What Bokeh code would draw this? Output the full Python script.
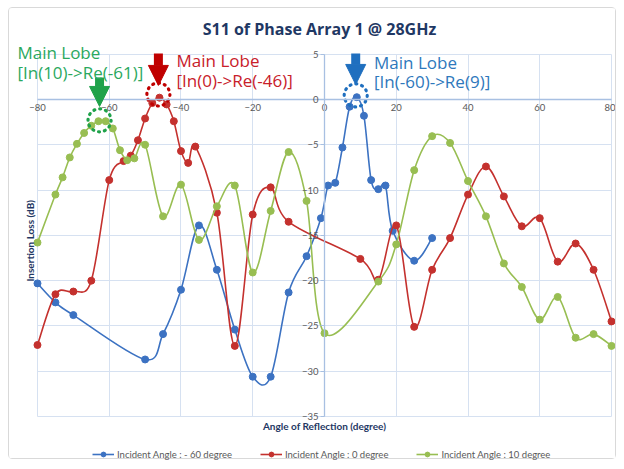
import numpy as np
from bokeh.plotting import figure
from bokeh.models import (Arrow, NormalHead, Label, Legend, LegendItem,
                          SingleIntervalTicker, ColumnDataSource, Range1d)
from bokeh.embed import file_html
from bokeh.resources import INLINE

# ---------------- data ----------------
title_text = "S11 of Phase Array 1 @ 28GHz"
x_title = "Angle of Reflection (degree)"
y_title = "Insertion Loss (dB)"

series_names = ["Incident Angle : - 60 degree",
                "Incident Angle : 0 degree",
                "Incident Angle : 10 degree"]

blue_x = [-80, -75, -70, -50, -45, -40, -35, -30, -25, -20, -15, -10, -5, -1,
          1, 3, 5, 7, 9, 11, 13, 15, 17, 19, 25, 30]
blue_y = [-20.3, -22.4, -23.8, -28.7, -25.9, -21.0, -13.9, -18.8, -25.4, -30.6,
          -30.6, -21.3, -17.3, -13.1, -9.5, -9.2, -5.3, -0.8, 0.25, -1.8, -8.9,
          -9.9, -9.5, -14.5, -17.8, -15.3]

red_x = [-80, -75, -70, -65, -60, -56, -54, -52, -50, -48, -46, -44, -42, -40,
         -38, -36, -30, -25, -20, -15, -10, 10, 15, 20, 25, 30, 35, 40, 45, 50,
         55, 60, 65, 70, 75, 80]
red_y = [-27.1, -21.5, -21.2, -20.0, -8.9, -6.8, -6.2, -4.5, -2.1, -0.4, 0.2,
         -0.55, -2.4, -5.7, -7.0, -5.2, -12.5, -27.2, -12.7, -9.7, -13.5, -17.6,
         -19.9, -13.9, -25.1, -18.8, -15.3, -10.5, -7.4, -10.7, -14.0, -13.1,
         -17.9, -15.9, -18.8, -24.5]

green_x = [-80, -75, -73, -71, -69, -67, -65, -63, -61, -59, -57, -55, -53, -50,
           -45, -40, -35, -30, -25, -20, -15, -10, -5, 0, 15, 20, 25, 30, 35, 40,
           45, 50, 55, 60, 65, 70, 75, 80]
green_y = [-15.8, -10.5, -8.6, -6.4, -4.9, -3.7, -2.9, -2.4, -2.4, -3.2, -5.6,
           -6.7, -6.5, -5.0, -12.9, -9.4, -15.5, -11.8, -9.5, -19.1, -12.3, -5.8,
           -11.2, -25.8, -20.1, -16.0, -7.8, -4.05, -4.8, -9.0, -12.9, -18.1,
           -20.7, -24.3, -21.8, -26.3, -25.9, -27.2]

x_bounds = (-80, 80)
y_bounds = (-35, 5)

# main-lobe annotations: (peak x, peak y, label lines)
lobe_green = (-62.7, -2.3, "Main Lobe", "[In(10)->Re(-61)]")
lobe_red = (-46.3, 0.55, "Main Lobe", "[In(0)->Re(-46)]")
lobe_blue = (8.7, 0.45, "Main Lobe", "[In(-60)->Re(9)]")

# ---------------- styling ----------------
C_BLUE = "#3C72C2"
C_RED = "#C4312E"
C_GREEN = "#98BE52"
GRID = "#D6E1F1"
AXIS = "#A8C0E2"
TXT = "#595959"
DARK = "#1F3864"

# frame spans the whole chart box; the plot area (-80..80, -35..5) sits inside it
p = figure(width=608, height=452, output_backend="svg", toolbar_location=None,
           x_range=Range1d(-87.8, 81.67), y_range=Range1d(-39.85, 10.04),
           min_border=0)
p.styles = {"border": "1px solid #D9D9D9", "border-radius": "4px",
            "margin": "7px 0 0 8px"}
p.outline_line_color = None
p.background_fill_color = "white"
p.border_fill_color = "white"

p.xaxis.ticker = SingleIntervalTicker(interval=20, num_minor_ticks=0)
p.yaxis.ticker = SingleIntervalTicker(interval=5, num_minor_ticks=0)
p.xaxis.fixed_location = 0
p.yaxis.fixed_location = 0
p.xaxis.bounds = x_bounds
p.yaxis.bounds = y_bounds
for ax in (p.xaxis, p.yaxis):
    ax.axis_line_color = AXIS
    ax.axis_line_width = 1.3
    ax.major_label_text_font = "Lato"
    ax.major_label_text_font_size = "9.5px"
    ax.major_label_text_color = TXT
    ax.minor_tick_line_color = None
    ax.major_tick_in = 0
p.xaxis.major_tick_out = 0
p.xaxis.major_label_standoff = 5
p.yaxis.major_tick_out = 4
p.yaxis.major_tick_line_color = AXIS
p.yaxis.major_label_standoff = 2

p.xgrid.bounds = (x_bounds[0] - 0.01, x_bounds[1] + 0.01)
p.xgrid.cross_bounds = y_bounds
p.ygrid.bounds = (y_bounds[0] - 0.01, y_bounds[1] + 0.01)
p.ygrid.cross_bounds = x_bounds
p.xgrid.grid_line_color = GRID
p.ygrid.grid_line_color = GRID


def smooth_source(xs, ys):
    xs = np.asarray(xs, float)
    ys = np.asarray(ys, float)
    n = len(xs)
    i = np.arange(n - 1)
    prv = np.maximum(i - 1, 0)
    nxt = np.minimum(i + 2, n - 1)
    return ColumnDataSource(dict(
        x0=xs[i], y0=ys[i], x1=xs[i + 1], y1=ys[i + 1],
        cx0=xs[i] + (xs[i + 1] - xs[prv]) / 6.0,
        cy0=ys[i] + (ys[i + 1] - ys[prv]) / 6.0,
        cx1=xs[i + 1] - (xs[nxt] - xs[i]) / 6.0,
        cy1=ys[i + 1] - (ys[nxt] - ys[i]) / 6.0,
    ))


items = []
for name, xs, ys, col in [(series_names[0], blue_x, blue_y, C_BLUE),
                          (series_names[1], red_x, red_y, C_RED),
                          (series_names[2], green_x, green_y, C_GREEN)]:
    src = smooth_source(xs, ys)
    rl = p.bezier(x0="x0", y0="y0", x1="x1", y1="y1", cx0="cx0", cy0="cy0",
                  cx1="cx1", cy1="cy1", source=src, line_color=col, line_width=1.6)
    rm = p.scatter(xs, ys, size=7, marker="circle", fill_color=col, line_color=col)
    items.append(LegendItem(label=name, renderers=[rl, rm]))

legend = Legend(items=items, orientation="horizontal", location=(83, 0),
                border_line_color=None, background_fill_alpha=0,
                glyph_width=22, glyph_height=12, label_standoff=3, spacing=28,
                padding=0, margin=0, label_text_font="Lato",
                label_text_font_size="9.5px", label_text_color=TXT)
p.add_layout(legend, "center")

# ------------- main lobe annotations -------------
anno = [
    (lobe_green, "#1FA24A", "#2AA85E", 2.43, -0.77, -85.6, 5.22, 2.98),
    (lobe_red, "#C00000", "#C8202A", 5.08, 1.55, -41.25, 4.30, 2.10),
    (lobe_blue, "#1F6FBF", "#2E78BC", 5.08, 1.66, 13.8, 4.08, 1.99),
]
for (px, py, l1, l2), acol, tcol, ys0, ye, tx, ty1, ty2 in anno:
    p.scatter([px], [py], size=23, marker="circle", fill_color=None,
              line_color=acol, line_width=3.2, line_dash="1 5",
              line_cap="round")
    p.add_layout(Arrow(x_start=px, y_start=ys0, x_end=px, y_end=ye,
                       line_color=acol, line_width=9,
                       end=NormalHead(size=20, fill_color=acol, line_color=acol,
                                      line_width=1)))
    for txt, ty in ((l1, ty1), (l2, ty2)):
        p.add_layout(Label(x=tx, y=ty, text=txt, text_font="Open Sans",
                           text_font_size="17px", text_color=tcol,
                           text_baseline="alphabetic", text_align="left"))

# titles
p.add_layout(Label(x=-1.4, y=7.73, text=title_text, text_font="Open Sans",
                   text_font_size="16px", text_font_style="bold",
                   text_color=DARK, text_align="center", text_baseline="middle"))
p.add_layout(Label(x=0, y=-36.0, text=x_title, text_font="Lato",
                   text_font_size="10px", text_font_style="bold",
                   text_color=DARK, text_align="center", text_baseline="middle"))
p.add_layout(Label(x=-82.2, y=-15.6, text=y_title, text_font="Lato",
                   text_font_size="10px", text_font_style="bold",
                   text_color=DARK, text_align="center", text_baseline="middle",
                   angle=np.pi / 2))

open("out.html", "w").write(file_html(p, INLINE))
